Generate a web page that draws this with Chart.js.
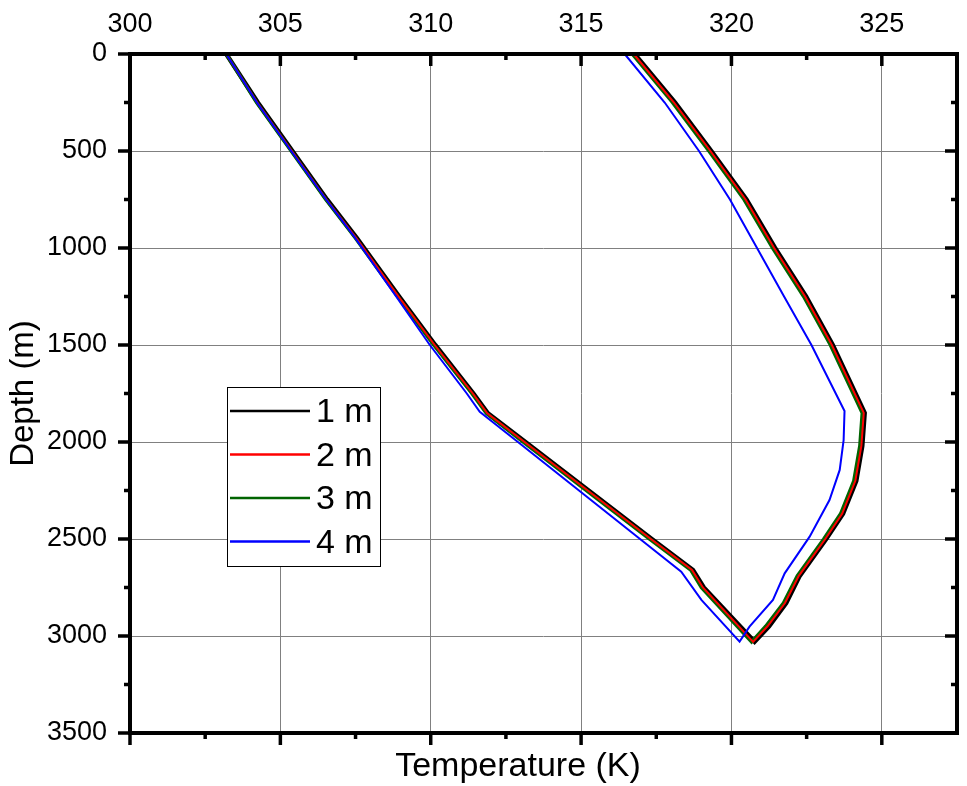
<!DOCTYPE html>
<html>
<head>
<meta charset="utf-8">
<title>Temperature vs depth</title>
<script src="https://cdn.jsdelivr.net/npm/chart.js@4.4.1/dist/chart.umd.min.js"></script>
<style>
  body { margin: 0; background: #fff; }
  #wrap { width: 967px; height: 786px; }
</style>
</head>
<body>
<div id="wrap"><canvas id="tempChart" width="967" height="786"></canvas></div>
<script>
// depth along the loop (m): down the injection side, then back up
const depthPath = [0, 250, 500, 750, 950, 1250, 1500, 1750, 1852, 2000, 2250, 2500, 2660, 2750, 3030,
                   2950, 2830, 2690, 2500, 2370, 2200, 2020, 1850, 1500, 1250, 1000, 750, 500, 250, 0];
const depthPath4 = [0, 250, 500, 750, 940, 1250, 1500, 1750, 1844, 2000, 2250, 2500, 2668, 2814, 3029,
                    2952, 2814, 2677, 2488, 2299, 2144, 1990, 1840, 1500, 1250, 1000, 750, 500, 250, 0];

// temperature (K) at each point of the path
const temp1m = [303.2, 304.25, 305.4, 306.55, 307.55, 308.95, 310.15, 311.42, 311.9, 313.15, 315.25, 317.35, 318.72, 319.08, 320.77,
                321.25, 321.82, 322.27, 323.15, 323.71, 324.15, 324.35, 324.43, 323.37, 322.48, 321.45, 320.5, 319.33, 318.12, 316.78];
const temp2m = [303.2, 304.23, 305.38, 306.53, 307.53, 308.93, 310.13, 311.4, 311.88, 313.12, 315.22, 317.32, 318.69, 319.05, 320.72,
                321.2, 321.78, 322.24, 323.12, 323.68, 324.12, 324.32, 324.4, 323.34, 322.45, 321.42, 320.47, 319.3, 318.09, 316.75];
const temp3m = [303.2, 304.21, 305.36, 306.51, 307.5, 308.9, 310.1, 311.37, 311.85, 313.08, 315.18, 317.28, 318.65, 319.0, 320.67,
                321.14, 321.73, 322.19, 323.07, 323.63, 324.07, 324.27, 324.35, 323.29, 322.4, 321.37, 320.42, 319.25, 318.04, 316.7];
const temp4m = [303.2, 304.22, 305.36, 306.52, 307.45, 308.85, 309.97, 311.2, 311.63, 312.9, 314.93, 316.96, 318.33, 319.0, 320.27,
                320.6, 321.38, 321.77, 322.6, 323.26, 323.6, 323.73, 323.76, 322.66, 321.75, 320.85, 319.95, 318.92, 317.78, 316.45];

const seriesLabels = ['1 m', '2 m', '3 m', '4 m'];
const seriesColors = ['#000000', '#ff0000', '#006400', '#0000ff'];
const seriesWidths = [4.5, 2, 3.5, 2];

const xMajorTicks = [300, 305, 310, 315, 320, 325];
const xMinorTicks = [302.5, 307.5, 312.5, 317.5, 322.5];
const yMajorTicks = [0, 500, 1000, 1500, 2000, 2500, 3000, 3500];
const yMinorTicks = [250, 750, 1250, 1750, 2250, 2750, 3250];

const FONT = '"Liberation Sans", Arial, sans-serif';

function toPoints(depths, temps) {
  return temps.map((t, i) => ({ x: t, y: depths[i] }));
}

// frame, tick marks, axis titles and the legend box
const frameAndLegend = {
  id: 'frameAndLegend',
  afterDatasetsDraw(chart) {
    const ctx = chart.ctx;
    const a = chart.chartArea;
    const xs = chart.scales.x;
    const ys = chart.scales.y;

    ctx.save();
    ctx.strokeStyle = '#000';
    ctx.lineCap = 'butt';

    function seg(x1, y1, x2, y2, w) {
      ctx.lineWidth = w;
      ctx.beginPath();
      ctx.moveTo(x1, y1);
      ctx.lineTo(x2, y2);
      ctx.stroke();
    }

    // ticks: bottom/left outward, top/right inward
    const drawX = (v, len) => {
      const px = xs.getPixelForValue(v);
      seg(px, a.bottom, px, a.bottom + len, 3.5);
      seg(px, a.top, px, a.top + len, 3.5);
    };
    const drawY = (v, len) => {
      const py = ys.getPixelForValue(v);
      seg(a.left, py, a.left - len, py, 3.5);
      seg(a.right, py, a.right - len, py, 3.5);
    };
    xMajorTicks.forEach(v => drawX(v, 12));
    xMinorTicks.forEach(v => drawX(v, 6));
    yMajorTicks.forEach(v => drawY(v, 12));
    yMinorTicks.forEach(v => drawY(v, 6));

    ctx.lineWidth = 4;
    ctx.strokeRect(a.left, a.top, a.right - a.left, a.bottom - a.top);

    // axis titles
    ctx.fillStyle = '#000';
    ctx.textAlign = 'center';
    ctx.textBaseline = 'alphabetic';
    ctx.font = '34px ' + FONT;
    ctx.fillText('Temperature (K)', 518, 776);

    ctx.save();
    ctx.translate(33, (a.top + a.bottom) / 2);
    ctx.rotate(-Math.PI / 2);
    ctx.font = '33px ' + FONT;
    ctx.fillText('Depth (m)', 0, 0);
    ctx.restore();

    // legend
    const lx = a.left + 97, ly = a.top + 333;
    ctx.fillStyle = '#fff';
    ctx.fillRect(lx, ly, 153, 179);
    ctx.strokeStyle = '#000';
    ctx.lineWidth = 1;
    ctx.strokeRect(lx + 0.5, ly + 0.5, 153, 179);
    ctx.font = '34px ' + FONT;
    ctx.textAlign = 'left';
    ctx.textBaseline = 'middle';
    seriesLabels.forEach((lab, i) => {
      const rowY = ly + 24 + i * 43.5;
      ctx.strokeStyle = seriesColors[i];
      seg(lx + 3, rowY, lx + 83, rowY, 2.5);
      ctx.fillStyle = '#000';
      ctx.fillText(lab, lx + 89, rowY + 2);
    });
    ctx.restore();
  }
};

document.addEventListener('DOMContentLoaded', () => {
  const tempSeries = [temp1m, temp2m, temp3m, temp4m];
  const depthSeries = [depthPath, depthPath, depthPath, depthPath4];
  const drawOrder = [3, 1, 2, 0]; // blue on top, black underneath

  const ctx = document.getElementById('tempChart').getContext('2d');
  const tempChart = new Chart(ctx, {
    type: 'scatter',
    data: {
      datasets: seriesLabels.map((lab, i) => ({
        label: lab,
        data: toPoints(depthSeries[i], tempSeries[i]),
        showLine: true,
        borderColor: seriesColors[i],
        backgroundColor: seriesColors[i],
        borderWidth: seriesWidths[i],
        pointRadius: 0,
        tension: 0,
        fill: false,
        order: drawOrder[i]
      }))
    },
    options: {
      responsive: false,
      animation: false,
      devicePixelRatio: 1,
      layout: { padding: { left: 0, right: 10, top: 0, bottom: 0 } },
      plugins: {
        legend: { display: false },
        tooltip: { enabled: false }
      },
      scales: {
        x: {
          type: 'linear',
          position: 'top',
          min: 300,
          max: 327.5,
          afterBuildTicks: s => { s.ticks = xMajorTicks.map(v => ({ value: v })); },
          afterFit: s => { s.height = 54; },
          grid: { color: '#808080', lineWidth: 1, drawTicks: false },
          border: { display: false },
          ticks: { color: '#000', padding: 13, maxRotation: 0, callback: v => String(v),
                   font: { family: FONT, size: 27 } }
        },
        x2: {
          type: 'linear',
          position: 'bottom',
          min: 300,
          max: 327.5,
          afterFit: s => { s.height = 53; },
          grid: { display: false, drawTicks: false },
          border: { display: false },
          ticks: { display: false }
        },
        y: {
          type: 'linear',
          position: 'left',
          reverse: true,
          min: 0,
          max: 3500,
          afterBuildTicks: s => { s.ticks = yMajorTicks.map(v => ({ value: v })); },
          afterFit: s => { s.width = 130; },
          grid: { color: '#808080', lineWidth: 1, drawTicks: false },
          border: { display: false },
          ticks: { color: '#000', padding: 23, callback: v => String(v),
                   font: { family: FONT, size: 27 } }
        }
      }
    },
    plugins: [frameAndLegend]
  });
});
</script>
</body>
</html>
